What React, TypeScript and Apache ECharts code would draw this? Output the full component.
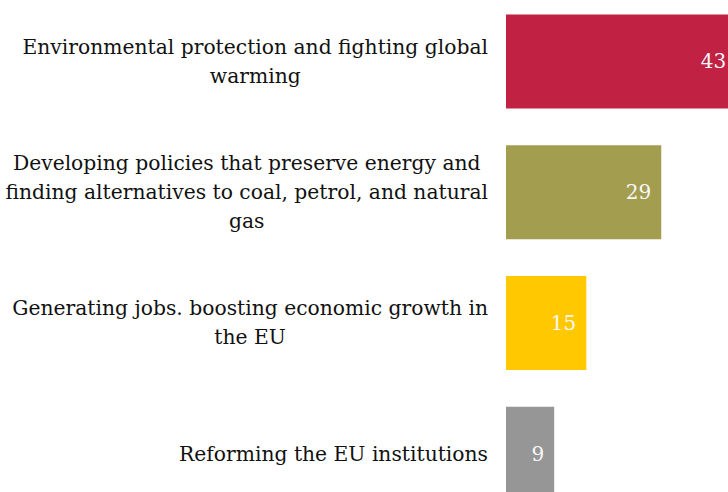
import React, { useEffect, useRef } from "react";
import * as echarts from "echarts";

const categories = [
  "Environmental protection and fighting global\nwarming",
  "Developing policies that preserve energy and\nfinding alternatives to coal, petrol, and natural\ngas",
  "Generating jobs. boosting economic growth in\nthe EU",
  "Reforming the EU institutions",
];
const values = [43, 29, 15, 9];
const colors = ["#C12143", "#A39D50", "#FFC800", "#969696"];

const FONT = "'DejaVu Serif', serif";

export default function App() {
  const ref = useRef<HTMLDivElement>(null);
  useEffect(() => {
    if (!ref.current) return;
    const chart = echarts.init(ref.current, undefined, { renderer: "svg" });
    chart.setOption({
      animation: false,
      backgroundColor: "#ffffff",
      grid: { left: 506, width: 265, top: 0, height: 523, containLabel: false },
      xAxis: {
        type: "value",
        min: 0,
        max: 49.5,
        show: false,
      },
      yAxis: {
        type: "category",
        inverse: true,
        data: categories,
        axisLine: { show: false },
        axisTick: { show: false },
        splitLine: { show: false },
        axisLabel: {
          margin: 18,
          color: "#111111",
          fontFamily: FONT,
          fontSize: 20.3,
          lineHeight: 29,
          formatter: (v: string) =>
            v
              .split("\n")
              .map((l) => `{c|${l}}`)
              .join("\n"),
          rich: {
            c: {
              align: "center",
              fontFamily: FONT,
              fontSize: 20.3,
              lineHeight: 29,
              color: "#111111",
            },
          },
        },
      },
      series: [
        {
          type: "bar",
          data: values.map((v, i) => ({ value: v, itemStyle: { color: colors[i] } })),
          barWidth: 94,
          label: {
            show: true,
            position: "insideRight",
            distance: 10,
            color: "#f7f7f7",
            fontFamily: FONT,
            fontSize: 20,
          },
        },
      ],
    });
    return () => chart.dispose();
  }, []);
  return (
    <div
      ref={ref}
      style={{ position: "fixed", left: 0, top: -4, width: 790, height: 540 }}
    />
  );
}
